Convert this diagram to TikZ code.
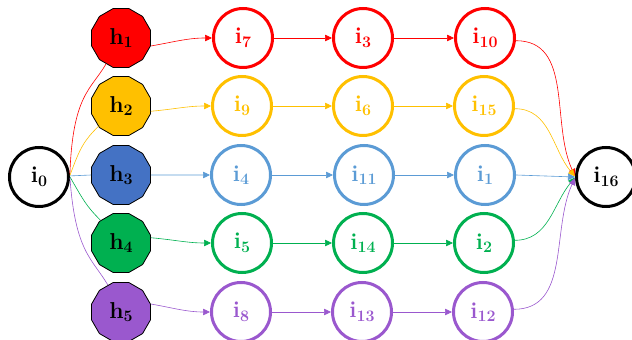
\documentclass[tikz,border=0pt]{standalone}
\usetikzlibrary{shapes.geometric,arrows.meta}
\definecolor{cred}{HTML}{FF0000}
\definecolor{cyel}{HTML}{FFC000}
\definecolor{cblu}{HTML}{4472C4}
\definecolor{clbl}{HTML}{5B9BD5}
\definecolor{cgrn}{HTML}{00B050}
\definecolor{cpur}{HTML}{9A58CE}
\newcommand\lbl[2]{#1\raisebox{-0.35ex}{\fontsize{16}{16}\selectfont#2}}
\tikzset{
  hnode/.style={regular polygon, regular polygon sides=12, minimum size=61pt, inner sep=0pt,
    draw=black, line width=0.8pt, font=\fontsize{23}{25}\selectfont\bfseries},
  inode/.style={circle, minimum size=59pt, inner sep=0pt, line width=3pt,
    font=\fontsize{23}{25}\selectfont\bfseries},
  edge/.style={line width=0.6pt},
  arr/.style={edge, -{Triangle[length=7pt,width=6.5pt]}}
}
\begin{document}
\begin{tikzpicture}[x=1pt,y=1pt]
\useasboundingbox (0,0) rectangle (632,340);
% start / end
\node[inode, draw=black] (i0) at (39,163) {\lbl{i}{0}};
\node[inode, draw=black] (i16) at (606,163) {\lbl{i}{16}};
% h column
\node[hnode, fill=cred] (h1) at (121,302) {\lbl{h}{1}};
\node[hnode, fill=cyel] (h2) at (121,234) {\lbl{h}{2}};
\node[hnode, fill=cblu] (h3) at (121,165) {\lbl{h}{3}};
\node[hnode, fill=cgrn] (h4) at (121,97) {\lbl{h}{4}};
\node[hnode, fill=cpur] (h5) at (121,28) {\lbl{h}{5}};
% row 1 red
\node[inode, draw=cred, text=cred] (i7) at (243,302) {\lbl{i}{7}};
\node[inode, draw=cred, text=cred] (i3) at (363,302) {\lbl{i}{3}};
\node[inode, draw=cred, text=cred] (i10) at (485,302) {\lbl{i}{10}};
% row 2 yellow
\node[inode, draw=cyel, text=cyel] (i9) at (242,234) {\lbl{i}{9}};
\node[inode, draw=cyel, text=cyel] (i6) at (363,234) {\lbl{i}{6}};
\node[inode, draw=cyel, text=cyel] (i15) at (484,234) {\lbl{i}{15}};
% row 3 blue
\node[inode, draw=clbl, text=clbl] (i4) at (241,165) {\lbl{i}{4}};
\node[inode, draw=clbl, text=clbl] (i11) at (364,165) {\lbl{i}{11}};
\node[inode, draw=clbl, text=clbl] (i1) at (485,165) {\lbl{i}{1}};
% row 4 green
\node[inode, draw=cgrn, text=cgrn] (i5) at (242,97) {\lbl{i}{5}};
\node[inode, draw=cgrn, text=cgrn] (i14) at (363,97) {\lbl{i}{14}};
\node[inode, draw=cgrn, text=cgrn] (i2) at (484,97) {\lbl{i}{2}};
% row 5 purple
\node[inode, draw=cpur, text=cpur] (i8) at (241,28) {\lbl{i}{8}};
\node[inode, draw=cpur, text=cpur] (i13) at (362,28) {\lbl{i}{13}};
\node[inode, draw=cpur, text=cpur] (i12) at (483,28) {\lbl{i}{12}};
% i0 -> h
\draw[edge, cred] (i0.5) .. controls +(88:80) and +(240:30) .. (h1.240);
\draw[edge, cyel] (i0.3) .. controls +(70:30) and +(225:20) .. (h2.222);
\draw[edge, clbl] (i0.2) -- (h3.west);
\draw[edge, cgrn] (i0.0) .. controls +(-60:28) and +(135:20) .. (h4.132);
\draw[edge, cpur] (i0.-2) .. controls +(-86:75) and +(120:30) .. (h5.116);
% h -> first column
\draw[arr, cred] (h1.-15) to[out=10,in=180] (i7.west);
\draw[arr, cyel] (h2.-10) to[out=5,in=180] (i9.west);
\draw[arr, clbl] (h3.east) -- (i4.west);
\draw[arr, cgrn] (h4.10) to[out=-5,in=180] (i5.west);
\draw[arr, cpur] (h5.15) to[out=-10,in=180] (i8.west);
% column 1 -> column 2 -> column 3
\draw[arr, cred] (i7) -- (i3);
\draw[arr, cred] (i3) -- (i10);
\draw[arr, cyel] (i9) -- (i6);
\draw[arr, cyel] (i6) -- (i15);
\draw[arr, clbl] (i4) -- (i11);
\draw[arr, clbl] (i11) -- (i1);
\draw[arr, cgrn] (i5) -- (i14);
\draw[arr, cgrn] (i14) -- (i2);
\draw[arr, cpur] (i8) -- (i13);
\draw[arr, cpur] (i13) -- (i12);
% column 3 -> i16
\draw[arr, cred] (i10.-5) to[out=0,in=115] (i16.178);
\draw[arr, cyel] (i15.-5) to[out=0,in=130] (i16.179);
\draw[arr, clbl] (i1.east) -- (i16.west);
\draw[arr, cgrn] (i2.5) to[out=0,in=-130] (i16.181);
\draw[arr, cpur] (i12.5) to[out=0,in=-115] (i16.182);
\end{tikzpicture}
\end{document}
